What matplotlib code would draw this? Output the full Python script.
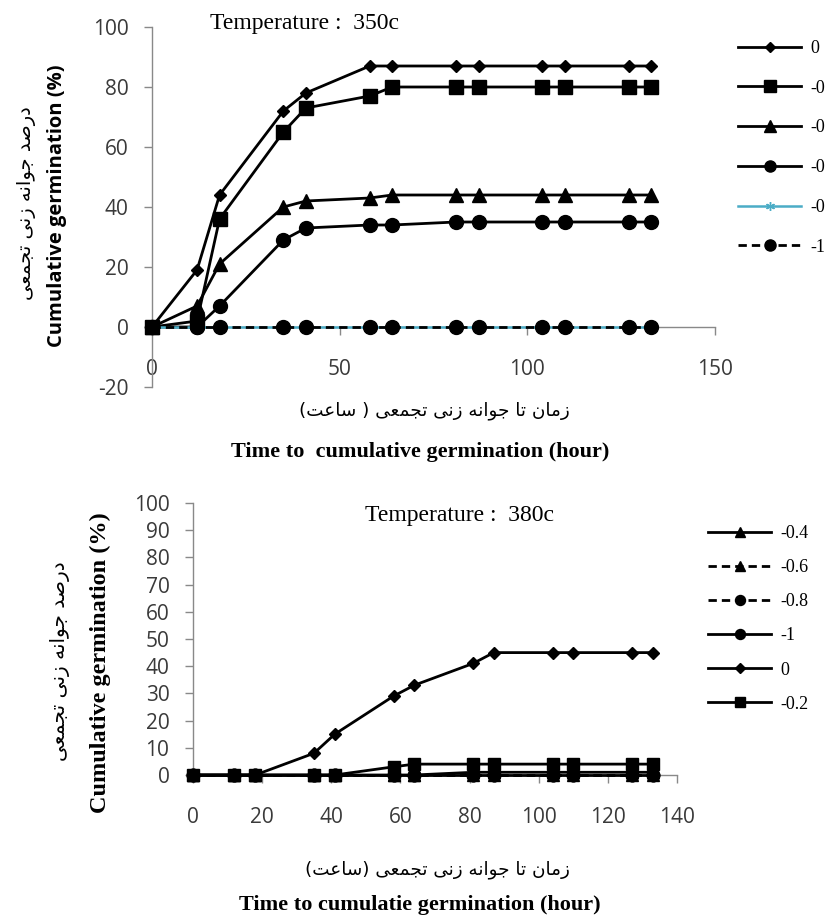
import matplotlib
matplotlib.use("Agg")
import matplotlib.pyplot as plt

plt.rcParams["axes.unicode_minus"] = False

# ---------------- data ----------------
hours = [0, 12, 18, 35, 41, 58, 64, 81, 87, 104, 110, 127, 133]

# Temperature 35 C
t350_labels = ["0", "-0", "-0", "-0", "-0", "-1"]
t350_0 = [0, 19, 44, 72, 78, 87, 87, 87, 87, 87, 87, 87, 87]
t350_m02 = [0, 2, 36, 65, 73, 77, 80, 80, 80, 80, 80, 80, 80]
t350_m04 = [0, 7, 21, 40, 42, 43, 44, 44, 44, 44, 44, 44, 44]
t350_m06 = [0, 0, 7, 29, 33, 34, 34, 35, 35, 35, 35, 35, 35]
t350_m08 = [0, 0, 0, 0, 0, 0, 0, 0, 0, 0, 0, 0, 0]
t350_m1 = [0, 0, 0, 0, 0, 0, 0, 0, 0, 0, 0, 0, 0]

# Temperature 38 C
t380_labels = ["-0.4", "-0.6", "-0.8", "-1", "0", "-0.2"]
t380_m04 = [0, 0, 0, 0, 0, 0, 0, 1, 1, 1, 1, 1, 1]
t380_m06 = [0, 0, 0, 0, 0, 0, 0, 0, 0, 0, 0, 0, 0]
t380_m08 = [0, 0, 0, 0, 0, 0, 0, 0, 0, 0, 0, 0, 0]
t380_m1 = [0, 0, 0, 0, 0, 0, 0, 0, 0, 0, 0, 0, 0]
t380_0 = [0, 0, 0, 8, 15, 29, 33, 41, 45, 45, 45, 45, 45]
t380_m02 = [0, 0, 0, 0, 0, 3, 4, 4, 4, 4, 4, 4, 4]

top_xticks = [0, 50, 100, 150]
top_yticks = [-20, 0, 20, 40, 60, 80, 100]
bot_xticks = [0, 20, 40, 60, 80, 100, 120, 140]
bot_yticks = list(range(0, 101, 10))

title_top = "Temperature :  350c"
title_bot = "Temperature :  380c"
ylabel_fa = "درصد جوانه زن\u06cc تجمع\u06cc"
ylabel_en = "Cumulative germination (%)"
xlabel_fa_top = "زمان تا جوانه زن\u06cc تجمع\u06cc ( ساعت)"
xlabel_fa_bot = "زمان تا جوانه زن\u06cc تجمع\u06cc (ساعت)"
xlabel_en_top = "Time to  cumulative germination (hour)"
xlabel_en_bot = "Time to cumulatie germination (hour)"

# ------------- Persian shaping (matplotlib has no complex shaping) -------------
FORMS = {
    "\u0627": ("\uFE8D", "\uFE8E", None, None),
    "\u062F": ("\uFEA9", "\uFEAA", None, None),
    "\u0631": ("\uFEAD", "\uFEAE", None, None),
    "\u0632": ("\uFEAF", "\uFEB0", None, None),
    "\u0648": ("\uFEED", "\uFEEE", None, None),
    "\u0635": ("\uFEB9", "\uFEBA", "\uFEBB", "\uFEBC"),
    "\u062C": ("\uFE9D", "\uFE9E", "\uFE9F", "\uFEA0"),
    "\u0646": ("\uFEE5", "\uFEE6", "\uFEE7", "\uFEE8"),
    "\u0647": ("\uFEE9", "\uFEEA", "\uFEEB", "\uFEEC"),
    "\u06CC": ("\uFBFC", "\uFBFD", "\uFBFE", "\uFBFF"),
    "\u062A": ("\uFE95", "\uFE96", "\uFE97", "\uFE98"),
    "\u0645": ("\uFEE1", "\uFEE2", "\uFEE3", "\uFEE4"),
    "\u0639": ("\uFEC9", "\uFECA", "\uFECB", "\uFECC"),
    "\u0633": ("\uFEB1", "\uFEB2", "\uFEB3", "\uFEB4"),
}


def shape(text):
    out = []
    n = len(text)
    for i, c in enumerate(text):
        if c not in FORMS:
            out.append(c)
            continue
        iso, fin, ini, med = FORMS[c]
        prev = text[i - 1] if i > 0 else None
        nxt = text[i + 1] if i + 1 < n else None
        cp = prev in FORMS and FORMS[prev][2] is not None
        cn = nxt in FORMS and ini is not None
        if cp and cn:
            g = med
        elif cp:
            g = fin
        elif cn:
            g = ini
        else:
            g = iso
        out.append(g)
    vis = "".join(reversed(out))
    return vis.translate(str.maketrans("()", ")("))


# ---------------- figure ----------------
W, H = 830, 917
fig = plt.figure(figsize=(W / 100, H / 100), dpi=100)


def fx(px):
    return px / W


def fy(py):
    return 1 - py / H


AXC = "#898989"
TXC = "#3a3a3a"
CYAN = "#4BACC6"
TICKFONT = "Open Sans"
SERIF = "Liberation Serif"
FA = ["DejaVu Sans"]


def style_axes(ax, xticks, yticks):
    for s in ("top", "right"):
        ax.spines[s].set_visible(False)
    for s in ("left", "bottom"):
        ax.spines[s].set_color(AXC)
        ax.spines[s].set_linewidth(1.0)
    ax.set_xticks(xticks)
    ax.set_yticks(yticks)
    ax.tick_params(axis="both", direction="out", length=6, width=1.0,
                   color=AXC, labelcolor=TXC, labelsize=15)
    ax.tick_params(axis="x", pad=17)
    ax.tick_params(axis="y", pad=11)
    for lab in ax.get_xticklabels() + ax.get_yticklabels():
        lab.set_fontfamily(TICKFONT)


LW = 2.0
DASH = (0, (3, 1.8))
# ---------- top chart ----------
ax1 = fig.add_axes([fx(152), fy(387), fx(715) - fx(152), (387 - 27) / H])
ax1.set_xlim(0, 150)
ax1.set_ylim(-20, 100)
ax1.spines["bottom"].set_position(("data", 0))
style_axes(ax1, top_xticks, top_yticks)

top_series = [
    (t350_0, dict(marker="D", ms=6.5, color="black", lw=LW, ls="-")),
    (t350_m02, dict(marker="s", ms=10, color="black", lw=LW, ls="-")),
    (t350_m04, dict(marker="^", ms=10, color="black", lw=LW, ls="-")),
    (t350_m06, dict(marker="o", ms=10, color="black", lw=LW, ls="-")),
    (t350_m08, dict(marker=(6, 2, 0), ms=8, color=CYAN, lw=1.8, ls="-", mew=1)),
    (t350_m1, dict(marker="o", ms=10, color="black", lw=LW, ls=DASH)),
]
h1 = []
for (vals, st), lab in zip(top_series, t350_labels):
    ln, = ax1.plot(hours, vals, label=lab, clip_on=False, zorder=3, **st)
    h1.append(ln)

ax1.legend(handles=h1, loc="upper left",
           bbox_to_anchor=(fx(738), fy(40)), bbox_transform=fig.transFigure,
           frameon=False, borderpad=0, borderaxespad=0,
           handlelength=3.5, handletextpad=0.5, labelspacing=1.26,
           prop={"family": SERIF, "size": 13}, markerscale=0.8)

fig.text(fx(304), fy(23), title_top, ha="center", va="center",
         fontfamily=SERIF, fontsize=17, color="black")
fig.text(fx(57), fy(206), ylabel_en, rotation=90, ha="center", va="center",
         fontfamily=TICKFONT, fontweight="bold", fontsize=14.5, color="black")
fig.text(fx(27), fy(203), shape(ylabel_fa), rotation=90, ha="center", va="center",
         family=FA, fontsize=14, color="black")
fig.text(fx(434), fy(411), shape(xlabel_fa_top), ha="center", va="center",
         family=FA, fontsize=13.2, color="black")
fig.text(fx(420), fy(452), xlabel_en_top, ha="center", va="center",
         fontfamily=SERIF, fontweight="bold", fontsize=16, color="black")

# ---------- bottom chart ----------
ax2 = fig.add_axes([fx(193), fy(775), fx(677) - fx(193), (775 - 503) / H])
ax2.set_xlim(0, 140)
ax2.set_ylim(0, 100)
style_axes(ax2, bot_xticks, bot_yticks)

bot_series = [
    (t380_m04, dict(marker="^", ms=9, color="black", lw=LW, ls="-")),
    (t380_m06, dict(marker="^", ms=9, color="black", lw=LW, ls=DASH)),
    (t380_m08, dict(marker="o", ms=9, color="black", lw=LW, ls=DASH)),
    (t380_m1, dict(marker="o", ms=9, color="black", lw=LW, ls="-")),
    (t380_0, dict(marker="D", ms=6.5, color="black", lw=LW, ls="-")),
    (t380_m02, dict(marker="s", ms=9, color="black", lw=LW, ls="-")),
]
h2 = []
for (vals, st), lab in zip(bot_series, t380_labels):
    ln, = ax2.plot(hours, vals, label=lab, clip_on=False, zorder=3, **st)
    h2.append(ln)

ax2.legend(handles=h2, loc="upper left",
           bbox_to_anchor=(fx(708), fy(525)), bbox_transform=fig.transFigure,
           frameon=False, borderpad=0, borderaxespad=0,
           handlelength=3.5, handletextpad=0.5, labelspacing=0.95,
           prop={"family": SERIF, "size": 13}, markerscale=0.8)

fig.text(fx(459), fy(515), title_bot, ha="center", va="center",
         fontfamily=SERIF, fontsize=17, color="black")
fig.text(fx(100), fy(663), ylabel_en, rotation=90, ha="center", va="center",
         fontfamily=SERIF, fontweight="bold", fontsize=17.5, color="black")
fig.text(fx(60), fy(661), shape(ylabel_fa), rotation=90, ha="center", va="center",
         family=FA, fontsize=14.5, color="black")
fig.text(fx(437), fy(870), shape(xlabel_fa_bot), ha="center", va="center",
         family=FA, fontsize=13.2, color="black")
fig.text(fx(420), fy(905), xlabel_en_bot, ha="center", va="center",
         fontfamily=SERIF, fontweight="bold", fontsize=16, color="black")

fig.savefig("out.png", dpi=100)
